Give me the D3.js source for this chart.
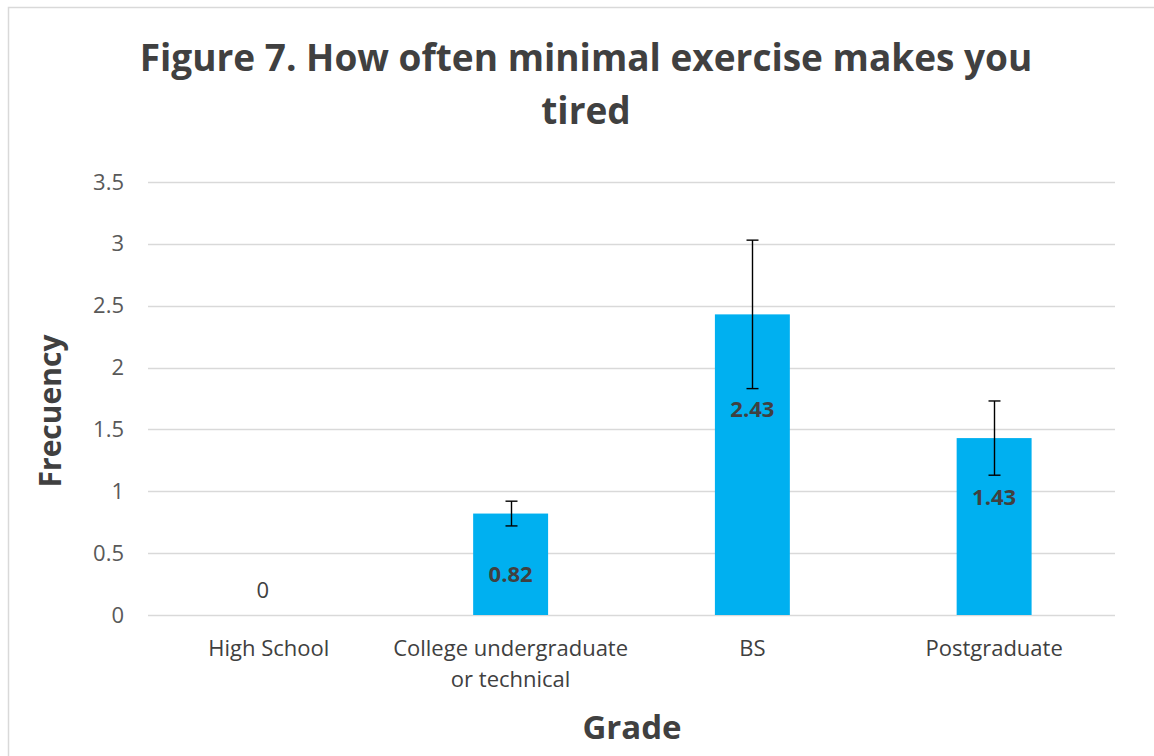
<!DOCTYPE html>
<html>
<head>
<meta charset="utf-8">
<script src="https://cdn.jsdelivr.net/npm/d3@7"></script>
<style>
  html, body { margin: 0; padding: 0; background: #fff; }
  svg { display: block; }
  text { font-family: "Open Sans", Lato, sans-serif; }
</style>
</head>
<body>
<script>
const categories = [["High School"], ["College undergraduate", "or technical"], ["BS"], ["Postgraduate"]];
const values = [0, 0.82, 2.43, 1.43];
const errors = [0, 0.1, 0.6, 0.3];
const labelAt = [0.2, 0.33, 1.66, 0.95];
const yTicks = [0, 0.5, 1, 1.5, 2, 2.5, 3, 3.5];
const titleLines = ["Figure 7. How often minimal exercise makes you", "tired"];
const xTitle = "Grade";
const yTitle = "Frecuency";

const W = 1154, H = 756;
const svg = d3.select("body").append("svg").attr("width", W).attr("height", H);

svg.append("rect").attr("x", 8.5).attr("y", 7.5).attr("width", 1160).attr("height", 770)
  .attr("fill", "#fff").attr("stroke", "#d9d9d9").attr("stroke-width", 1.5);

const x = d3.scaleBand().domain(d3.range(categories.length)).range([148, 1115]).paddingInner(0.69).paddingOuter(0.345);
const y = d3.scaleLinear().domain([0, 3.5]).range([615, 182]);

// gridlines
svg.append("g").selectAll("line").data(yTicks).join("line")
  .attr("x1", 148).attr("x2", 1115)
  .attr("y1", d => Math.round(y(d)) + 0.5).attr("y2", d => Math.round(y(d)) + 0.5)
  .attr("stroke", "#d9d9d9").attr("stroke-width", 1.3);

// y axis tick labels
const yAxis = d3.axisLeft(y).tickValues(yTicks).tickSize(0).tickPadding(0).tickFormat(d => String(d));
const gy = svg.append("g").attr("transform", "translate(124,0)").call(yAxis);
gy.select(".domain").remove();
gy.selectAll("text").attr("font-size", 22).attr("fill", "#595959").attr("font-family", "'Open Sans', sans-serif");

// bars
svg.append("g").selectAll("rect").data(values).join("rect")
  .attr("x", (d, i) => x(i)).attr("width", x.bandwidth())
  .attr("y", d => y(d)).attr("height", d => y(0) - y(d))
  .attr("fill", "#00b0f0");

// error bars
const eb = svg.append("g").attr("stroke", "#000").attr("stroke-width", 1.4);
values.forEach((v, i) => {
  if (!errors[i]) return;
  const cx = Math.round(x(i) + x.bandwidth() / 2) + 0.5;
  const y1 = y(v + errors[i]), y2 = y(v - errors[i]);
  eb.append("line").attr("x1", cx).attr("x2", cx).attr("y1", y1).attr("y2", y2);
  eb.append("line").attr("x1", cx - 6).attr("x2", cx + 6).attr("y1", y1).attr("y2", y1);
  eb.append("line").attr("x1", cx - 6).attr("x2", cx + 6).attr("y1", y2).attr("y2", y2);
});

// value labels
svg.append("g").selectAll("text").data(values).join("text")
  .attr("x", (d, i) => x(i) + x.bandwidth() / 2 - (d === 0 ? 6 : 0))
  .attr("y", (d, i) => y(labelAt[i]))
  .attr("dy", "0.35em")
  .attr("text-anchor", "middle")
  .attr("font-size", 22)
  .attr("font-weight", d => d === 0 ? "normal" : "bold")
  .attr("fill", "#404040")
  .text(d => String(d));

// x category labels
const xl = svg.append("g");
categories.forEach((lines, i) => {
  lines.forEach((t, j) => {
    xl.append("text").attr("x", x(i) + x.bandwidth() / 2).attr("y", 648 + j * 31)
      .attr("dy", "0.35em").attr("text-anchor", "middle")
      .attr("font-size", 22).attr("fill", "#404040").text(t);
  });
});

// titles
svg.append("g").selectAll("text").data(titleLines).join("text")
  .attr("x", 586).attr("y", (d, i) => 58 + i * 53).attr("dy", "0.35em")
  .attr("text-anchor", "middle").attr("font-size", 37).attr("font-weight", "bold")
  .attr("fill", "#404040").text(d => d);

svg.append("text").attr("x", 632).attr("y", 727).attr("dy", "0.35em")
  .attr("text-anchor", "middle").attr("font-size", 33).attr("font-weight", "bold")
  .attr("fill", "#404040").text(xTitle);

svg.append("text").attr("transform", "translate(50,411) rotate(-90)").attr("dy", "0.35em")
  .attr("text-anchor", "middle").attr("font-size", 30).attr("font-weight", "bold")
  .attr("fill", "#404040").text(yTitle);
</script>
</body>
</html>
